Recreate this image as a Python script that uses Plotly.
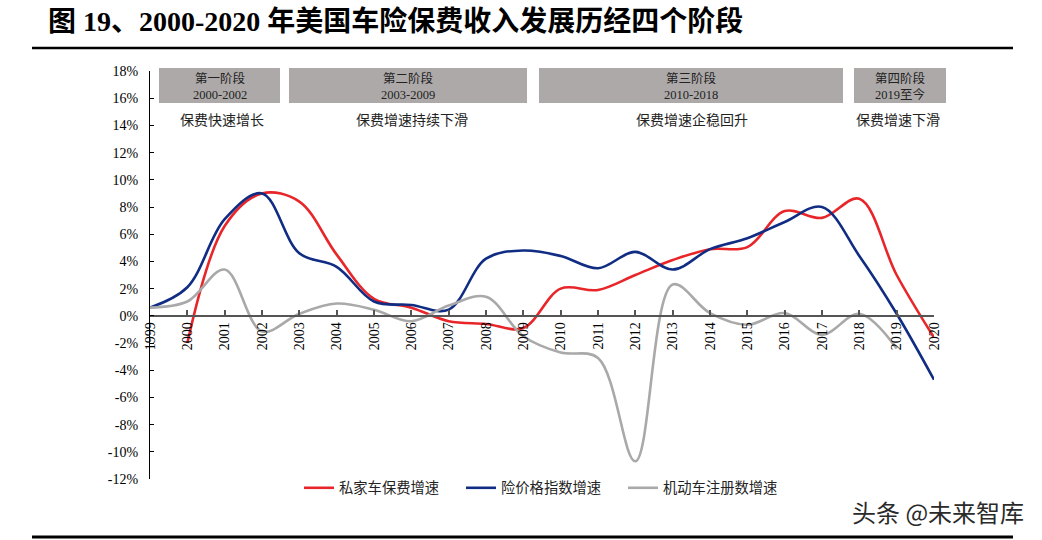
import plotly.graph_objects as go

years = list(range(1999, 2021))
private_car_premium = [None, -2.0, 6.6, 9.0, 8.4, 4.5, 1.25, 0.6, -0.4, -0.6, -0.9, 2.0, 1.9, 3.0, 4.1, 4.9, 5.05, 7.7, 7.2, 8.6, 3.0, -1.6]
price_index = [0.6, 2.1, 7.1, 9.0, 4.6, 3.6, 1.05, 0.8, 0.45, 4.2, 4.8, 4.4, 3.5, 4.7, 3.4, 4.9, 5.7, 6.9, 8.0, 4.4, 0.15, -4.7]
registrations = [0.6, 1.05, 3.4, -1.15, 0.15, 0.9, 0.45, -0.4, 0.75, 1.4, -1.5, -2.7, -3.1, -10.7, 2.3, 0.2, -0.66, 0.2, -1.4, 0.15, -2.4, None]

series_names = ["私家车保费增速", "险价格指数增速", "机动车注册数增速"]
series_colors = ["#E8262A", "#102D83", "#A9A9A9"]

y_ticks = list(range(-12, 20, 2))
y_ticktext = [f"{v}%" for v in y_ticks]

phase_titles = ["第一阶段<br>2000-2002", "第二阶段<br>2003-2009", "第三阶段<br>2010-2018", "第四阶段<br>2019至今"]
phase_notes = ["保费快速增长", "保费增速持续下滑", "保费增速企稳回升", "保费增速下滑"]

W, H = 1042, 540
L, R, T, B = 150, 108, 71, 61
PW, PH = W - L - R, H - T - B

def xp(px):
    return (px - L) / PW

def yp(py):
    return (H - B - py) / PH

CJK = "Noto Sans CJK SC"
SERIF = "Liberation Serif, Noto Sans CJK SC"

fig = go.Figure()
for name, vals, col in zip(series_names, [private_car_premium, price_index, registrations], series_colors):
    fig.add_trace(go.Scatter(
        x=years, y=vals, name=name, mode="lines",
        line=dict(color=col, width=2.6, shape="spline", smoothing=1.0),
        connectgaps=False,
    ))

shapes = []
annotations = []

# phase boxes (pixel extents)
box_px = [(159, 280), (289, 527), (539, 843), (854, 946)]
note_cx = [222, 412, 692, 898]
for (x0, x1), t, note, cx in zip(box_px, phase_titles, phase_notes, note_cx):
    shapes.append(dict(type="rect", xref="paper", yref="paper",
                       x0=xp(x0), x1=xp(x1), y0=yp(103), y1=yp(68),
                       fillcolor="#ADA9A9", line=dict(width=0), layer="below"))
    annotations.append(dict(xref="paper", yref="paper", x=xp((x0 + x1) / 2), y=yp(86),
                            text=t, showarrow=False, xanchor="center", yanchor="middle",
                            font=dict(family=SERIF, size=12.5, color="#222222")))
    annotations.append(dict(xref="paper", yref="paper", x=xp(cx), y=yp(119),
                            text=note, showarrow=False, xanchor="center", yanchor="middle",
                            font=dict(family=CJK, size=14, color="#222222")))

# title
annotations.append(dict(xref="paper", yref="paper", x=xp(46), y=yp(22),
                        text="<b>图 19、2000-2020 年美国车险保费收入发展历经四个阶段</b>",
                        showarrow=False, xanchor="left", yanchor="middle",
                        font=dict(family=SERIF, size=28, color="#000000")))
# watermark
annotations.append(dict(xref="paper", yref="paper", x=xp(1026), y=yp(511),
                        text="头条 @未来智库", showarrow=False, xanchor="right", yanchor="middle",
                        font=dict(family=CJK, size=24, color="#2a2a2a")))

# rules
shapes.append(dict(type="line", xref="paper", yref="paper", x0=xp(32), x1=xp(1013),
                   y0=yp(48), y1=yp(48), line=dict(color="#000000", width=2.5)))
shapes.append(dict(type="line", xref="paper", yref="paper", x0=xp(32), x1=xp(1013),
                   y0=yp(537), y1=yp(537), line=dict(color="#000000", width=3)))

fig.update_layout(
    width=W, height=H,
    margin=dict(l=L, r=R, t=T, b=B, autoexpand=False),
    paper_bgcolor="white", plot_bgcolor="white",
    showlegend=True,
    legend=dict(orientation="h", x=0.5, xanchor="center", y=yp(488), yanchor="middle",
                font=dict(family=CJK, size=14.3, color="#222222"),
                entrywidth=117, entrywidthmode="pixels", bgcolor="rgba(0,0,0,0)"),
    shapes=shapes,
    annotations=annotations,
    xaxis=dict(range=[1999, 2020], tickmode="linear", tick0=1999, dtick=1,
               anchor="free", position=0.4, showline=True, linecolor="#555555", linewidth=1.5,
               ticks="inside", ticklen=5, tickcolor="#555555", tickwidth=1.5,
               tickangle=-90, showgrid=False, zeroline=False,
               tickfont=dict(family=SERIF, size=14, color="#000000")),
    yaxis=dict(range=[-12, 18], tickvals=y_ticks, ticktext=y_ticktext,
               showline=True, linecolor="#000000", linewidth=1.2,
               ticks="inside", ticklen=4, tickcolor="#000000",
               showgrid=False, zeroline=False, ticklabelstandoff=8,
               tickfont=dict(family=SERIF, size=14, color="#000000")),
)

fig.write_html("out.html")
